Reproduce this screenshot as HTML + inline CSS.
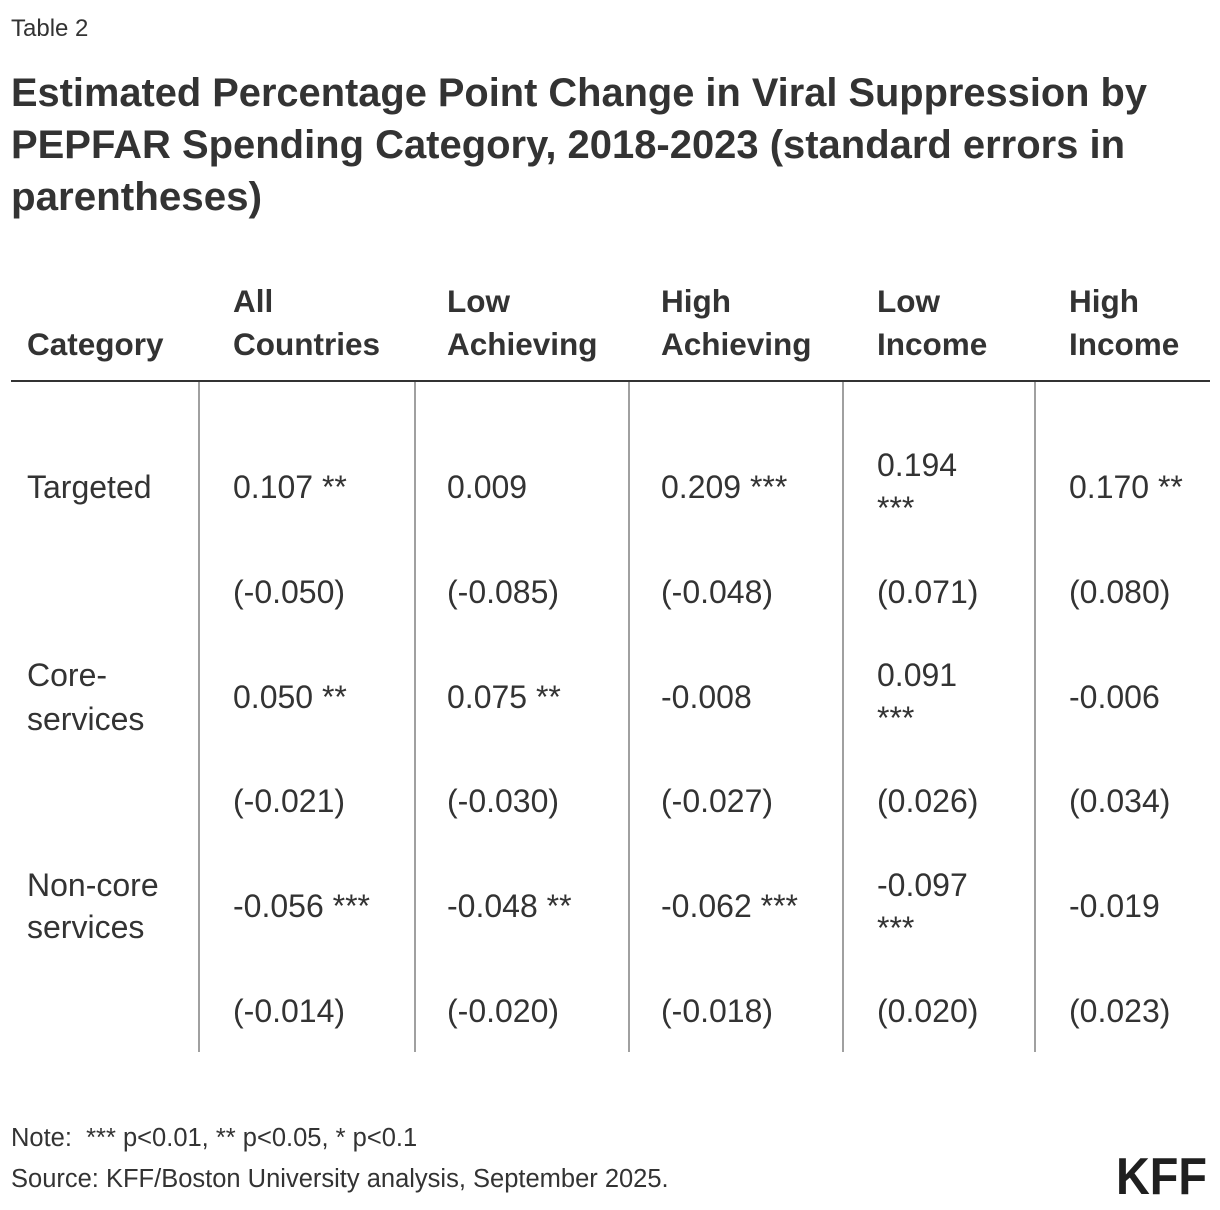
<!DOCTYPE html>
<html>
<head>
<meta charset="utf-8">
<style>
  html, body { margin: 0; padding: 0; background: #ffffff; }
  body { width: 1220px; height: 1210px; overflow: hidden; }
  svg { display: block; }
  text { font-family: "Liberation Sans", Arial, sans-serif; fill: #333333; }
  .lbl { font-size: 24px; }
  .title { font-size: 39.5px; font-weight: bold; }
  .hdr { font-size: 31.5px; font-weight: bold; }
  .cell { font-size: 32px; }
  .foot { font-size: 25.5px; }
  .logo { font-size: 52px; font-weight: bold; fill: #1f1f1f; }
</style>
</head>
<body>
<svg width="1220" height="1210" viewBox="0 0 1220 1210" xmlns="http://www.w3.org/2000/svg">
  <rect x="0" y="0" width="1220" height="1210" fill="#ffffff"/>

  <!-- Label -->
  <text class="lbl" x="11" y="36">Table 2</text>

  <!-- Title -->
  <text class="title" x="11" y="106" textLength="1136" lengthAdjust="spacingAndGlyphs">Estimated Percentage Point Change in Viral Suppression by</text>
  <text class="title" x="11" y="158" textLength="1114" lengthAdjust="spacingAndGlyphs">PEPFAR Spending Category, 2018-2023 (standard errors in</text>
  <text class="title" x="11" y="210" textLength="251" lengthAdjust="spacingAndGlyphs">parentheses)</text>

  <!-- Header -->
  <text class="hdr" x="27" y="355">Category</text>
  <text class="hdr" x="233" y="312">All</text>
  <text class="hdr" x="233" y="355">Countries</text>
  <text class="hdr" x="447" y="312">Low</text>
  <text class="hdr" x="447" y="355">Achieving</text>
  <text class="hdr" x="661" y="312">High</text>
  <text class="hdr" x="661" y="355">Achieving</text>
  <text class="hdr" x="877" y="312">Low</text>
  <text class="hdr" x="877" y="355">Income</text>
  <text class="hdr" x="1069" y="312">High</text>
  <text class="hdr" x="1069" y="355">Income</text>

  <!-- Header rule -->
  <rect x="11" y="380" width="1199" height="2" fill="#333333"/>

  <!-- Vertical column lines -->
  <rect x="198" y="382" width="2" height="670" fill="#a0a0a0"/>
  <rect x="414" y="382" width="2" height="670" fill="#a0a0a0"/>
  <rect x="628" y="382" width="2" height="670" fill="#a0a0a0"/>
  <rect x="842" y="382" width="2" height="670" fill="#a0a0a0"/>
  <rect x="1034" y="382" width="2" height="670" fill="#a0a0a0"/>

  <!-- Row: Targeted -->
  <text class="cell" x="27" y="498">Targeted</text>
  <text class="cell" x="233" y="498">0.107 **</text>
  <text class="cell" x="447" y="498">0.009</text>
  <text class="cell" x="661" y="498">0.209 ***</text>
  <text class="cell" x="877" y="476">0.194</text>
  <text class="cell" x="877" y="519">***</text>
  <text class="cell" x="1069" y="498">0.170 **</text>

  <text class="cell" x="233" y="603">(-0.050)</text>
  <text class="cell" x="447" y="603">(-0.085)</text>
  <text class="cell" x="661" y="603">(-0.048)</text>
  <text class="cell" x="877" y="603">(0.071)</text>
  <text class="cell" x="1069" y="603">(0.080)</text>

  <!-- Row: Core-services -->
  <text class="cell" x="27" y="686">Core-</text>
  <text class="cell" x="27" y="730">services</text>
  <text class="cell" x="233" y="708">0.050 **</text>
  <text class="cell" x="447" y="708">0.075 **</text>
  <text class="cell" x="661" y="708">-0.008</text>
  <text class="cell" x="877" y="686">0.091</text>
  <text class="cell" x="877" y="729">***</text>
  <text class="cell" x="1069" y="708">-0.006</text>

  <text class="cell" x="233" y="812">(-0.021)</text>
  <text class="cell" x="447" y="812">(-0.030)</text>
  <text class="cell" x="661" y="812">(-0.027)</text>
  <text class="cell" x="877" y="812">(0.026)</text>
  <text class="cell" x="1069" y="812">(0.034)</text>

  <!-- Row: Non-core services -->
  <text class="cell" x="27" y="896">Non-core</text>
  <text class="cell" x="27" y="938">services</text>
  <text class="cell" x="233" y="917">-0.056 ***</text>
  <text class="cell" x="447" y="917">-0.048 **</text>
  <text class="cell" x="661" y="917">-0.062 ***</text>
  <text class="cell" x="877" y="896">-0.097</text>
  <text class="cell" x="877" y="939">***</text>
  <text class="cell" x="1069" y="917">-0.019</text>

  <text class="cell" x="233" y="1022">(-0.014)</text>
  <text class="cell" x="447" y="1022">(-0.020)</text>
  <text class="cell" x="661" y="1022">(-0.018)</text>
  <text class="cell" x="877" y="1022">(0.020)</text>
  <text class="cell" x="1069" y="1022">(0.023)</text>

  <!-- Footer -->
  <text class="foot" x="11" y="1146" xml:space="preserve">Note:  *** p&lt;0.01, ** p&lt;0.05, * p&lt;0.1</text>
  <text class="foot" x="11" y="1187">Source: KFF/Boston University analysis, September 2025.</text>

  <!-- Logo -->
  <text class="logo" x="1116" y="1194" textLength="91" lengthAdjust="spacingAndGlyphs">KFF</text>
</svg>
</body>
</html>
